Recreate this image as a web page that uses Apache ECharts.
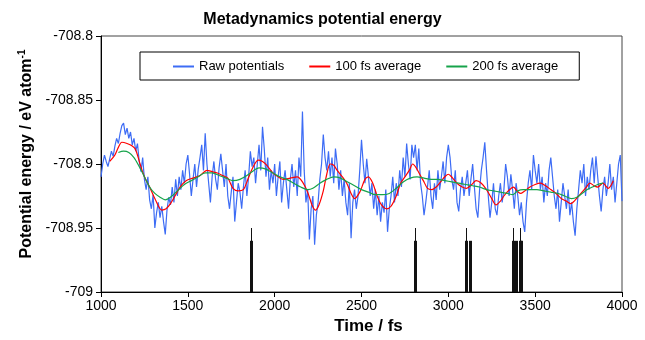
<!DOCTYPE html>
<html>
<head>
<meta charset="utf-8">
<script src="https://cdn.jsdelivr.net/npm/echarts@6/dist/echarts.min.js"></script>
<style>
  html, body { margin: 0; padding: 0; background: #fff; }
  #chart { width: 645px; height: 340px; }
</style>
</head>
<body>
<div id="chart"></div>
<script>
// raw potential every 10 fs, starting at 1000 fs
const rawStart = 1000;
const rawStep = 10;
const rawValues = [
  -708.910, -708.900, -708.893, -708.898, -708.902, -708.896, -708.890, -708.894, -708.886, -708.880,
  -708.884, -708.876, -708.870, -708.868, -708.877, -708.872, -708.880, -708.875, -708.885, -708.880,
  -708.890, -708.884, -708.898, -708.906, -708.895, -708.912, -708.920, -708.910, -708.928, -708.935,
  -708.924, -708.950, -708.938, -708.930, -708.942, -708.933, -708.945, -708.955, -708.936, -708.926,
  -708.932, -708.918, -708.930, -708.912, -708.925, -708.910, -708.920, -708.905, -708.915, -708.900,
  -708.893, -708.908, -708.925, -708.912, -708.900, -708.918, -708.904, -708.895, -708.885, -708.905,
  -708.876, -708.900, -708.915, -708.930, -708.910, -708.898, -708.912, -708.920, -708.903, -708.892,
  -708.905, -708.918, -708.900, -708.925, -708.935, -708.922, -708.910, -708.945, -708.930, -708.915,
  -708.922, -708.935, -708.918, -708.905, -708.925, -708.910, -708.890, -708.902, -708.895, -708.915,
  -708.900, -708.885, -708.905, -708.871, -708.888, -708.910, -708.895, -708.920, -708.905, -708.915,
  -708.900, -708.925, -708.910, -708.898, -708.930, -708.915, -708.905, -708.920, -708.935, -708.912,
  -708.900, -708.918, -708.905, -708.925, -708.895, -708.910, -708.859, -708.905, -708.930, -708.920,
  -708.959, -708.935, -708.925, -708.963, -708.940, -708.930, -708.912, -708.900, -708.877, -708.895,
  -708.905, -708.890, -708.910, -708.895, -708.915, -708.888, -708.900, -708.920, -708.905, -708.925,
  -708.912, -708.930, -708.940, -708.915, -708.958, -708.930, -708.920, -708.935, -708.925, -708.905,
  -708.881, -708.900, -708.915, -708.896, -708.910, -708.925, -708.915, -708.935, -708.920, -708.940,
  -708.925, -708.945, -708.930, -708.938, -708.920, -708.953, -708.935, -708.925, -708.910, -708.930,
  -708.915, -708.925, -708.905, -708.918, -708.895, -708.910, -708.884, -708.900, -708.912, -708.885,
  -708.895, -708.885, -708.905, -708.888, -708.915, -708.925, -708.940, -708.930, -708.918, -708.905,
  -708.925, -708.935, -708.915, -708.928, -708.905, -708.920, -708.910, -708.898, -708.915, -708.895,
  -708.885, -708.895, -708.912, -708.920, -708.905, -708.930, -708.937, -708.920, -708.910, -708.925,
  -708.915, -708.905, -708.925, -708.912, -708.900, -708.918, -708.935, -708.942, -708.920, -708.905,
  -708.895, -708.883, -708.905, -708.925, -708.942, -708.930, -708.915, -708.935, -708.940, -708.925,
  -708.915, -708.930, -708.920, -708.900, -708.910, -708.925, -708.908, -708.920, -708.935, -708.915,
  -708.925, -708.940, -708.930, -708.945, -708.953, -708.930, -708.915, -708.905, -708.920, -708.893,
  -708.905, -708.915, -708.900, -708.920, -708.910, -708.930, -708.915, -708.925, -708.905, -708.895,
  -708.910, -708.925, -708.935, -708.920, -708.945, -708.930, -708.915, -708.925, -708.935, -708.920,
  -708.940, -708.930, -708.945, -708.956, -708.935, -708.920, -708.905, -708.915, -708.900, -708.925,
  -708.910, -708.920, -708.905, -708.895, -708.915, -708.894, -708.910, -708.925, -708.937, -708.920,
  -708.910, -708.925, -708.915, -708.900, -708.920, -708.910, -708.930, -708.915, -708.900, -708.893,
  -708.929
];

// 100 fs running average [time, energy]
const avg100 = [
  [1050, -708.898], [1080, -708.893], [1100, -708.887], [1120, -708.883], [1150, -708.884],
  [1180, -708.886], [1200, -708.889], [1225, -708.900], [1250, -708.910], [1280, -708.918],
  [1310, -708.927], [1350, -708.936], [1375, -708.935], [1400, -708.931], [1430, -708.924],
  [1455, -708.918], [1490, -708.913], [1530, -708.911], [1570, -708.909], [1610, -708.905],
  [1640, -708.906], [1670, -708.907], [1700, -708.909], [1730, -708.911], [1760, -708.919],
  [1790, -708.921], [1820, -708.920], [1840, -708.914], [1860, -708.907], [1885, -708.900],
  [1905, -708.897], [1930, -708.898], [1955, -708.901], [1990, -708.907], [2020, -708.910],
  [2050, -708.912], [2090, -708.911], [2130, -708.910], [2160, -708.914], [2190, -708.922],
  [2215, -708.932], [2235, -708.936], [2255, -708.932], [2280, -708.921], [2300, -708.908],
  [2320, -708.900], [2340, -708.901], [2360, -708.905], [2390, -708.910], [2415, -708.915],
  [2440, -708.923], [2460, -708.927], [2490, -708.922], [2520, -708.912], [2540, -708.910],
  [2565, -708.915], [2590, -708.925], [2615, -708.932], [2645, -708.935], [2670, -708.933],
  [2700, -708.925], [2725, -708.915], [2750, -708.910], [2775, -708.905], [2795, -708.900],
  [2815, -708.903], [2835, -708.908], [2860, -708.914], [2880, -708.919], [2905, -708.920],
  [2930, -708.918], [2955, -708.914], [2980, -708.910], [3000, -708.908], [3025, -708.911],
  [3050, -708.915], [3080, -708.918], [3105, -708.919], [3135, -708.916], [3160, -708.913],
  [3190, -708.915], [3220, -708.920], [3250, -708.927], [3275, -708.932], [3300, -708.929],
  [3320, -708.925], [3345, -708.921], [3375, -708.918], [3395, -708.921], [3415, -708.923],
  [3440, -708.921], [3470, -708.918], [3500, -708.916], [3530, -708.915], [3560, -708.917],
  [3590, -708.920], [3620, -708.923], [3650, -708.927], [3680, -708.929], [3705, -708.931],
  [3725, -708.929], [3750, -708.925], [3770, -708.922], [3795, -708.918], [3815, -708.915],
  [3840, -708.917], [3860, -708.918], [3890, -708.915], [3920, -708.919], [3950, -708.913]
];

// 200 fs running average [time, energy]
const avg200 = [
  [1100, -708.891], [1130, -708.890], [1160, -708.891], [1190, -708.895], [1220, -708.902],
  [1250, -708.910], [1280, -708.918], [1310, -708.923], [1340, -708.926], [1370, -708.928],
  [1400, -708.926], [1440, -708.921], [1480, -708.916], [1520, -708.913], [1560, -708.910],
  [1600, -708.907], [1640, -708.907], [1680, -708.909], [1720, -708.911], [1760, -708.913],
  [1800, -708.912], [1840, -708.909], [1880, -708.905], [1910, -708.903], [1950, -708.904],
  [1990, -708.907], [2030, -708.910], [2070, -708.912], [2110, -708.915], [2150, -708.918],
  [2190, -708.920], [2220, -708.919], [2260, -708.915], [2300, -708.912], [2340, -708.910],
  [2380, -708.911], [2420, -708.914], [2460, -708.917], [2500, -708.920], [2540, -708.922],
  [2580, -708.924], [2620, -708.924], [2660, -708.923], [2700, -708.919], [2740, -708.914],
  [2780, -708.911], [2820, -708.910], [2860, -708.911], [2900, -708.912], [2940, -708.912],
  [2980, -708.913], [3020, -708.914], [3060, -708.915], [3100, -708.916], [3140, -708.917],
  [3180, -708.918], [3220, -708.920], [3260, -708.921], [3300, -708.922], [3340, -708.923],
  [3370, -708.924], [3400, -708.921], [3430, -708.920], [3470, -708.920], [3510, -708.920],
  [3550, -708.921], [3590, -708.922], [3630, -708.923], [3670, -708.925], [3710, -708.927],
  [3740, -708.926], [3770, -708.923], [3800, -708.920], [3830, -708.918], [3860, -708.916],
  [3890, -708.915]
];

// event markers along the bottom
const tallEventTimes = [1866, 2808, 3106, 3376, 3412];
const shortEventTimes = [3126, 3390, 3420];
const eventBase = -709;
const tallTop = -708.95;
const shortTop = -708.96;

const rawData = rawValues.map((v, i) => [rawStart + i * rawStep, v]);

const allEvents = tallEventTimes.concat(shortEventTimes);
const eventLines = [];
tallEventTimes.forEach(t => {
  eventLines.push([{ coord: [t, eventBase] }, { coord: [t, tallTop], lineStyle: { width: 1 } }]);
});
allEvents.forEach(t => {
  eventLines.push([{ coord: [t, eventBase] }, { coord: [t, shortTop], lineStyle: { width: 3 } }]);
});

const font = 'Arial, "Liberation Sans", sans-serif';

const myChart = echarts.init(document.getElementById('chart'));
myChart.setOption({
  animation: false,
  backgroundColor: '#fff',
  textStyle: { fontFamily: font },
  title: {
    text: 'Metadynamics potential energy',
    left: 'center',
    top: 7,
    textStyle: { fontSize: 16, fontWeight: 'bold', color: '#000', fontFamily: font }
  },
  legend: {
    left: 140,
    top: 52,
    padding: [8, 21, 7, 33],
    itemGap: 25,
    itemWidth: 21,
    itemHeight: 2,
    icon: 'rect',
    borderColor: '#000',
    borderWidth: 1,
    textStyle: { fontSize: 13, color: '#000', fontFamily: font },
    data: ['Raw potentials', '100 fs average', '200 fs average']
  },
  grid: {
    left: 101, right: 23, top: 36, bottom: 48,
    show: true, borderColor: '#444', borderWidth: 1
  },
  xAxis: {
    type: 'value',
    min: 1000, max: 4000, interval: 500,
    name: 'Time / fs',
    nameLocation: 'middle',
    nameGap: 25,
    nameTextStyle: {
      fontSize: 17, fontWeight: 'bold', color: '#000', fontFamily: font,
      padding: [0, 0, 0, 14]
    },
    axisLine: { onZero: false, lineStyle: { color: '#000', width: 1 } },
    axisTick: { show: true, length: 5, lineStyle: { color: '#000' } },
    axisLabel: { fontSize: 14, color: '#000', margin: 7, formatter: v => String(v) },
    splitLine: { show: false }
  },
  yAxis: {
    type: 'value',
    min: -709, max: -708.8, interval: 0.05,
    name: '{a|Potential energy / eV atom}{s|-1}',
    nameLocation: 'middle',
    nameGap: 63,
    nameTextStyle: {
      fontSize: 16, fontWeight: 'bold', color: '#000', fontFamily: font,
      padding: [0, 0, 0, 20],
      rich: {
        a: { fontSize: 16, fontWeight: 'bold', color: '#000', fontFamily: font, lineHeight: 18 },
        s: { fontSize: 10, fontWeight: 'bold', color: '#000', fontFamily: font, verticalAlign: 'top', lineHeight: 18 }
      }
    },
    axisLine: { show: true, onZero: false, lineStyle: { color: '#000', width: 1 } },
    axisTick: { show: true, length: 5, lineStyle: { color: '#000' } },
    axisLabel: {
      fontSize: 14, color: '#000', margin: 8,
      formatter: v => String(Math.round(v * 100) / 100)
    },
    splitLine: { show: false }
  },
  series: [
    {
      name: 'Raw potentials',
      type: 'line',
      data: rawData,
      showSymbol: false,
      symbol: 'none',
      itemStyle: { color: '#3d6cf5' },
      lineStyle: { color: '#3d6cf5', width: 1.2 },
      markLine: {
        silent: true,
        symbol: ['none', 'none'],
        label: { show: false },
        lineStyle: { color: '#111', type: 'solid', width: 1 },
        data: eventLines
      }
    },
    {
      name: '100 fs average',
      type: 'line',
      data: avg100,
      showSymbol: false,
      symbol: 'none',
      smooth: 0.3,
      itemStyle: { color: '#ff0000' },
      lineStyle: { color: '#ff0000', width: 1.2 }
    },
    {
      name: '200 fs average',
      type: 'line',
      data: avg200,
      showSymbol: false,
      symbol: 'none',
      smooth: 0.3,
      itemStyle: { color: '#16a34a' },
      lineStyle: { color: '#16a34a', width: 1.2 }
    }
  ]
});
window.addEventListener('resize', () => {
  myChart.resize();
});
</script>
</body>
</html>
